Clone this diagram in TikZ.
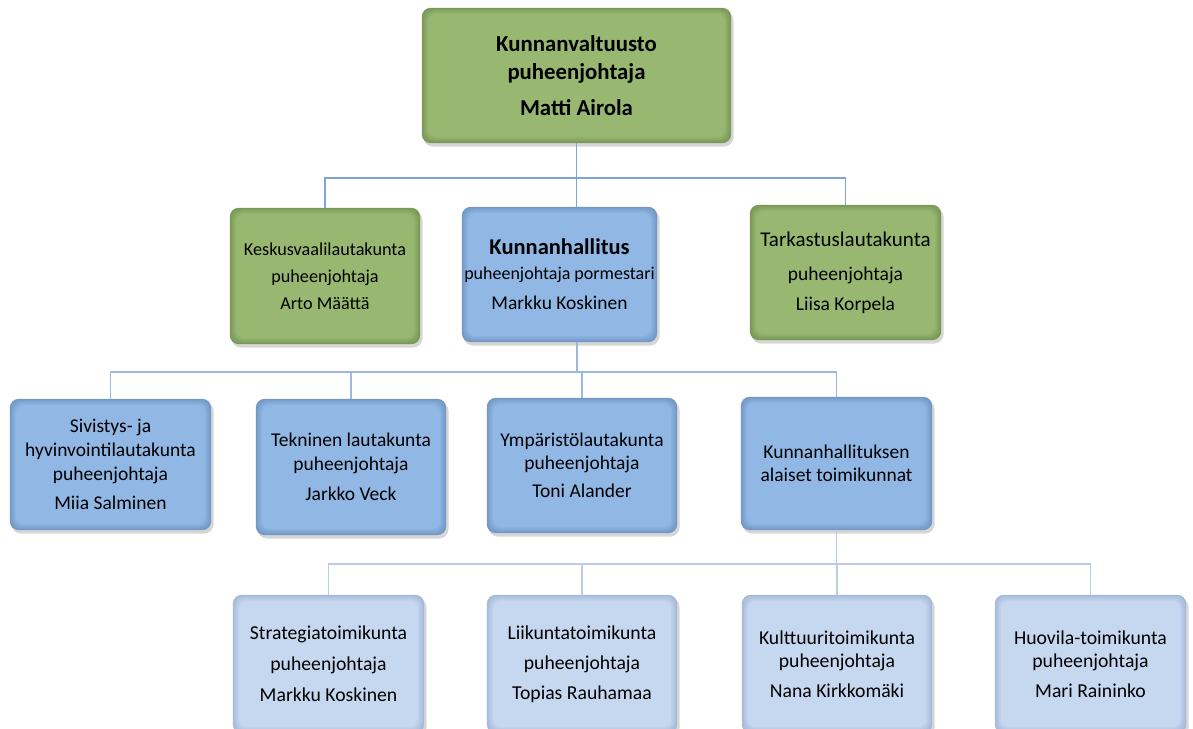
\documentclass[tikz,border=0pt]{standalone}
\usepackage{fontspec}
\setmainfont{Carlito}
\usetikzlibrary{backgrounds}
\definecolor{gfill}{HTML}{98B771}
\definecolor{gedge}{HTML}{7A9856}
\definecolor{bfill}{HTML}{91B7E5}
\definecolor{bedge}{HTML}{7398C6}
\definecolor{lfill}{HTML}{C6D7F0}
\definecolor{ledge}{HTML}{A5B9D8}
\definecolor{lineA}{HTML}{7EA4D6}
\definecolor{lineB}{HTML}{9DB7DE}
\definecolor{lineC}{HTML}{BACCE8}
\newcommand{\fs}[2]{\fontsize{#1}{#2}\selectfont}
\begin{document}
\begin{tikzpicture}[x=1pt,y=-1pt,
  basebox/.style={align=center, inner sep=2pt},
  gbox/.style={basebox},
  bbox/.style={basebox},
  lbox/.style={basebox},
  sz/.style 2 args={minimum width=#1pt, minimum height=#2pt},
  conA/.style={draw=lineA, line width=1.3pt},
  conB/.style={draw=lineB, line width=1.3pt},
  conC/.style={draw=lineC, line width=1.3pt}]
\useasboundingbox (0,0) rectangle (1193,728);

% level 1
\node[gbox, sz={309}{135}, font=\fs{22.8}{28}\bfseries] (top) at (576.5,75.5)
  {Kunnanvaltuusto\\puheenjohtaja\\[8pt]Matti Airola};

% level 2
\node[gbox, sz={190}{136}, font=\fs{18.2}{27}] (kv) at (325,276)
  {Keskusvaalilautakunta\\puheenjohtaja\\Arto Määttä};
\node[bbox, sz={195}{135}, font=\fs{18}{25}] (kh) at (559.5,274.5)
  {{\fs{22.5}{25}\bfseries Kunnanhallitus}\\puheenjohtaja pormestari\\[5pt]{\fs{19.5}{25}Markku Koskinen}};
\node[gbox, sz={191}{135}, font=\fs{19.5}{30}] (tk) at (845.5,272.5)
  {{\fs{21}{30}Tarkastuslautakunta}\\[4pt]puheenjohtaja\\Liisa Korpela};

% level 3
\node[bbox, sz={201}{131}, font=\fs{19.5}{24}] (siv) at (110.5,464.5)
  {Sivistys- ja\\hyvinvointilautakunta\\puheenjohtaja\\[5pt]Miia Salminen};
\node[bbox, sz={190}{136}, font=\fs{19.5}{24}] (tek) at (351,467)
  {Tekninen lautakunta\\puheenjohtaja\\[6pt]Jarkko Veck};
\node[bbox, sz={190}{135}, font=\fs{19.5}{23}] (ymp) at (582,465.5)
  {Ympäristölautakunta\\puheenjohtaja\\[5pt]Toni Alander};
\node[bbox, sz={191}{133}, font=\fs{19.5}{23}] (kha) at (836.5,463.5)
  {Kunnanhallituksen\\alaiset toimikunnat};

% level 4
\node[lbox, sz={191}{138}, font=\fs{19.7}{31}] (str) at (328.5,664)
  {Strategiatoimikunta\\puheenjohtaja\\Markku Koskinen};
\node[lbox, sz={190}{138}, font=\fs{19.7}{30}] (lii) at (582,664)
  {Liikuntatoimikunta\\puheenjohtaja\\Topias Rauhamaa};
\node[lbox, sz={190}{138}, font=\fs{19.7}{23}] (kul) at (837,664)
  {Kulttuuritoimikunta\\puheenjohtaja\\[7pt]Nana Kirkkomäki};
\node[lbox, sz={191}{138}, font=\fs{19.7}{23}] (huo) at (1090.5,664)
  {Huovila-toimikunta\\puheenjohtaja\\[7pt]Mari Raininko};

% box bodies with soft bevel, drawn behind the texts
\begin{pgfonlayer}{background}
\fill[white] (0,0) rectangle (1193,728);
\foreach \n/\f/\e in {top/gfill/gedge, kv/gfill/gedge, kh/bfill/bedge, tk/gfill/gedge,
    siv/bfill/bedge, tek/bfill/bedge, ymp/bfill/bedge, kha/bfill/bedge,
    str/lfill/ledge, lii/lfill/ledge, kul/lfill/ledge, huo/lfill/ledge}{
  \fill[black, opacity=0.16, rounded corners=10pt]
    ([shift={(1.5,3)}]\n.north west) rectangle ([shift={(2.5,3.5)}]\n.south east);
  \foreach \i/\m in {0/0, 1.2/20, 2.4/40, 3.6/60, 4.8/80, 6/100}
    \fill[\f!\m!\e, rounded corners=9pt]
      ([shift={(\i,\i)}]\n.north west) rectangle ([shift={(-\i,-\i)}]\n.south east);
}
\end{pgfonlayer}

% connectors level 1 -> 2
\coordinate (j1) at (576.5,178);
\draw[conA] (top.south) -- (j1);
\draw[conA] (kv.north) |- (j1) -| (tk.north);
\draw[conA] (j1) -- (j1 |- kh.north);

% connectors level 2 -> 3
\coordinate (k0) at (577,342);
\coordinate (j2) at (577,372);
\draw[conB] (k0) -- (j2);
\draw[conB] (siv.north) |- (j2) -| (kha.north);
\draw[conB] (tek.north) -- (tek.north |- j2);
\draw[conB] (ymp.north) -- (ymp.north |- j2);

% connectors level 3 -> 4
\coordinate (j3) at (kha.south |- 0,564);
\draw[conC] (kha.south) -- (j3);
\draw[conC] (str.north) |- (j3) -| (huo.north);
\draw[conC] (lii.north) -- (lii.north |- j3);
\draw[conC] (kul.north) -- (kul.north |- j3);
\end{tikzpicture}
\end{document}
